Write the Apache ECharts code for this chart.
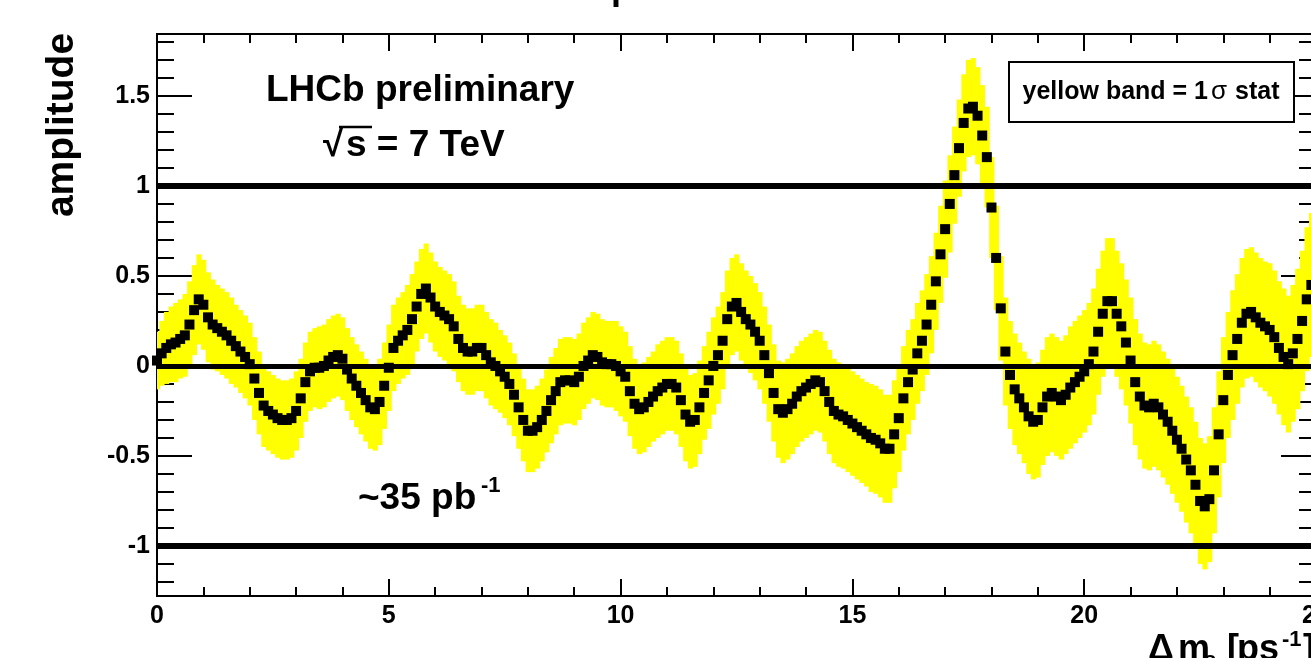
<!DOCTYPE html>
<html>
<head>
<meta charset="utf-8">
<script src="https://cdn.jsdelivr.net/npm/echarts@6/dist/echarts.min.js"></script>
<style>
    html, body { margin: 0; padding: 0; background: #fff; }
    #chart { width: 1311px; height: 658px; }
</style>
</head>
<body>
<div id="chart"></div>
<script>
;(function() {
    "use strict";

    // scan step in delta m_s [ps^-1], first point at 0
    const dmStep = 0.1;

    // amplitude, one row per unit of delta m_s
    const amplitude = [
        0.03, 0.07, 0.10, 0.12, 0.13, 0.15, 0.17, 0.23, 0.31, 0.37,
        0.34, 0.27, 0.23, 0.21, 0.19, 0.17, 0.14, 0.11, 0.08, 0.05,
        0.01, -0.07, -0.15, -0.22, -0.25, -0.27, -0.29, -0.30, -0.30, -0.29,
        -0.25, -0.18, -0.09, -0.03, -0.01, -0.01, 0.00, 0.03, 0.05, 0.06,
        0.04, -0.02, -0.07, -0.11, -0.15, -0.19, -0.23, -0.24, -0.20, -0.11,
        -0.01, 0.10, 0.14, 0.17, 0.20, 0.26, 0.33, 0.40, 0.43, 0.38,
        0.33, 0.30, 0.28, 0.26, 0.22, 0.15, 0.10, 0.08, 0.08, 0.10,
        0.10, 0.06, 0.02, 0.00, -0.03, -0.06, -0.10, -0.16, -0.23, -0.30,
        -0.36, -0.36, -0.34, -0.30, -0.25, -0.19, -0.14, -0.09, -0.08, -0.08,
        -0.09, -0.06, 0.00, 0.03, 0.06, 0.05, 0.02, 0.01, 0.01, 0.00,
        -0.03, -0.06, -0.14, -0.21, -0.24, -0.23, -0.20, -0.17, -0.14, -0.12,
        -0.10, -0.10, -0.12, -0.19, -0.27, -0.31, -0.30, -0.23, -0.15, -0.08,
        0.00, 0.06, 0.14, 0.26, 0.33, 0.35, 0.30, 0.26, 0.23, 0.19,
        0.14, 0.06, -0.04, -0.15, -0.24, -0.26, -0.24, -0.21, -0.17, -0.14,
        -0.12, -0.10, -0.08, -0.09, -0.14, -0.20, -0.25, -0.27, -0.28, -0.30,
        -0.32, -0.34, -0.36, -0.38, -0.40, -0.41, -0.43, -0.46, -0.46, -0.38,
        -0.29, -0.18, -0.09, -0.02, 0.07, 0.14, 0.23, 0.34, 0.47, 0.62,
        0.76, 0.90, 1.06, 1.21, 1.35, 1.43, 1.44, 1.39, 1.28, 1.16,
        0.88, 0.60, 0.32, 0.08, -0.05, -0.13, -0.18, -0.23, -0.28, -0.31,
        -0.30, -0.23, -0.17, -0.15, -0.17, -0.19, -0.16, -0.12, -0.09, -0.06,
        -0.03, 0.01, 0.08, 0.19, 0.29, 0.36, 0.36, 0.29, 0.22, 0.13,
        0.03, -0.09, -0.17, -0.22, -0.23, -0.21, -0.23, -0.27, -0.31, -0.36,
        -0.41, -0.46, -0.52, -0.58, -0.66, -0.75, -0.78, -0.74, -0.58, -0.38,
        -0.19, -0.05, 0.06, 0.15, 0.24, 0.29, 0.30, 0.27, 0.24, 0.22,
        0.20, 0.16, 0.10, 0.05, 0.01, 0.07, 0.15, 0.25, 0.37, 0.45
    ];

    // 1 sigma statistical error (yellow band half height)
    const sigma = [
        0.16, 0.18, 0.20, 0.21, 0.22, 0.22, 0.23, 0.24, 0.25, 0.25,
        0.25, 0.25, 0.25, 0.24, 0.24, 0.24, 0.24, 0.23, 0.23, 0.23,
        0.23, 0.23, 0.23, 0.23, 0.22, 0.22, 0.22, 0.22, 0.22, 0.22,
        0.22, 0.22, 0.22, 0.22, 0.22, 0.23, 0.23, 0.23, 0.23, 0.23,
        0.23, 0.23, 0.23, 0.23, 0.23, 0.23, 0.23, 0.23, 0.24, 0.24,
        0.24, 0.24, 0.24, 0.24, 0.25, 0.25, 0.25, 0.25, 0.25, 0.25,
        0.25, 0.25, 0.25, 0.25, 0.25, 0.24, 0.24, 0.24, 0.24, 0.24,
        0.24, 0.24, 0.24, 0.24, 0.23, 0.23, 0.23, 0.23, 0.23, 0.23,
        0.23, 0.23, 0.23, 0.23, 0.23, 0.24, 0.24, 0.24, 0.24, 0.24,
        0.24, 0.24, 0.24, 0.24, 0.24, 0.24, 0.24, 0.24, 0.24, 0.25,
        0.25, 0.25, 0.25, 0.25, 0.25, 0.25, 0.25, 0.25, 0.26, 0.26,
        0.26, 0.26, 0.26, 0.26, 0.26, 0.26, 0.26, 0.26, 0.26, 0.27,
        0.27, 0.27, 0.27, 0.27, 0.27, 0.27, 0.27, 0.27, 0.27, 0.27,
        0.27, 0.27, 0.27, 0.27, 0.27, 0.28, 0.28, 0.28, 0.28, 0.28,
        0.28, 0.28, 0.28, 0.28, 0.28, 0.29, 0.29, 0.29, 0.29, 0.29,
        0.29, 0.29, 0.29, 0.29, 0.30, 0.30, 0.30, 0.30, 0.30, 0.30,
        0.30, 0.29, 0.29, 0.28, 0.28, 0.28, 0.28, 0.27, 0.27, 0.27,
        0.27, 0.27, 0.27, 0.27, 0.27, 0.27, 0.27, 0.27, 0.28, 0.28,
        0.28, 0.29, 0.29, 0.30, 0.30, 0.31, 0.31, 0.31, 0.32, 0.32,
        0.32, 0.32, 0.33, 0.33, 0.33, 0.33, 0.33, 0.34, 0.34, 0.34,
        0.34, 0.34, 0.35, 0.35, 0.35, 0.35, 0.35, 0.35, 0.35, 0.35,
        0.35, 0.35, 0.35, 0.35, 0.35, 0.35, 0.35, 0.35, 0.35, 0.35,
        0.35, 0.35, 0.35, 0.35, 0.35, 0.35, 0.35, 0.35, 0.35, 0.35,
        0.35, 0.35, 0.36, 0.36, 0.36, 0.36, 0.36, 0.36, 0.36, 0.36,
        0.37, 0.37, 0.37, 0.38, 0.38, 0.38, 0.39, 0.39, 0.40, 0.40
    ];

    const yTickLabels = [-1, -0.5, 0, 0.5, 1, 1.5];
    const refLevels = [1, 0, -1];

    const font = "Liberation Sans";
    const markerPx = 10;

    const points = amplitude.map((a, i) => [+(i * dmStep).toFixed(1), a]);
    const band = amplitude.map((a, i) => [+(i * dmStep).toFixed(1), a - sigma[i], a + sigma[i]]);

    let yMinor = [];
    for (let k = -12; k <= 18; k++) yMinor.push(k / 10);

    const yRange = { min: -1.278, max: 1.844 };

    function yAxisDef(pos, values, len, withLabels) {
        return {
            type: "value", position: pos, min: yRange.min, max: yRange.max,
            axisLine: { show: true, onZero: false, lineStyle: { color: "#000", width: 2 } },
            axisTick: { show: true, inside: true, length: len, customValues: values,
                        lineStyle: { color: "#000", width: 2 } },
            axisLabel: { show: withLabels, customValues: values, color: "#000", margin: 7,
                         fontFamily: font, fontWeight: "bold", fontSize: 25 },
            splitLine: { show: false }
        };
    }

    function xAxisDef(pos, withLabels) {
        return {
            type: "value", position: pos, min: 0, max: 25, interval: 5,
            axisLine: { show: true, onZero: false, lineStyle: { color: "#000", width: 2 } },
            axisTick: { show: true, inside: true, length: 17, lineStyle: { color: "#000", width: 2 } },
            minorTick: { show: true, splitNumber: 5, length: 9, lineStyle: { color: "#000", width: 2 } },
            axisLabel: { show: withLabels, color: "#000", margin: 8,
                         fontFamily: font, fontWeight: "bold", fontSize: 25 },
            splitLine: { show: false },
            minorSplitLine: { show: false }
        };
    }

    // one yellow box per scan point, +-1 sigma high, one step wide
    function renderBand(params, api) {
        const x = api.value(0);
        const p1 = api.coord([x - dmStep / 2, api.value(2)]);
        const p2 = api.coord([x + dmStep / 2, api.value(1)]);
        return {
            type: "rect",
            shape: { x: p1[0], y: p1[1], width: p2[0] - p1[0] + 0.6, height: p2[1] - p1[1] },
            style: { fill: "#ffff00" }
        };
    }

    // full square marker
    function renderMarker(params, api) {
        const p = api.coord([api.value(0), api.value(1)]);
        return {
            type: "rect",
            shape: { x: p[0] - markerPx / 2, y: p[1] - markerPx / 2, width: markerPx, height: markerPx },
            style: { fill: "#000" }
        };
    }

    function txt(str, x, y, size, extra) {
        return Object.assign({
            type: "text", x: x, y: y,
            style: { text: str, font: "bold " + size + "px " + font, fill: "#000",
                     textVerticalAlign: "middle" }
        }, extra || {});
    }

    const myChart = echarts.init(document.getElementById("chart"));
    let options = {
        animation: false,
        backgroundColor: "#fff",
        grid: { left: 157, top: 34, right: -5, bottom: 62, outerBoundsMode: "none" },
        xAxis: [xAxisDef("bottom", true), xAxisDef("top", false)],
        yAxis: [
            yAxisDef("left", yTickLabels, 35, true),
            yAxisDef("left", yMinor, 17, false),
            yAxisDef("right", yTickLabels, 35, false),
            yAxisDef("right", yMinor, 17, false)
        ],
        graphic: [
            {   // y axis title
                type: "text", x: 62, y: 125, rotation: Math.PI / 2,
                style: { text: "amplitude", font: "bold 39px " + font, fill: "#000",
                         textAlign: "center", textVerticalAlign: "middle" }
            },
            // piece of the canvas title, cut by the top edge
            { type: "text", x: 611, y: 7,
              style: { text: "p", font: "bold 36px " + font, fill: "#000", textVerticalAlign: "bottom" } },
            txt("LHCb preliminary", 266, 91, 37),
            txt("\u221A", 323, 146, 37),
            { type: "line", shape: { x1: 339, y1: 127, x2: 372, y2: 127 },
              style: { stroke: "#000", lineWidth: 2.5 } },
            txt("s = 7 TeV", 346, 146, 37),
            txt("~35 pb", 358, 499, 37),
            txt("-1", 481, 486, 22),
            {   // legend box
                type: "rect", shape: { x: 1009, y: 62, width: 285, height: 60 },
                style: { fill: "#fff", stroke: "#000", lineWidth: 2 }, z: 10
            },
            {
                type: "text", x: 1151, y: 92, z: 11,
                style: {
                    text: "{b|yellow band = 1}{s|\u03C3}{b| stat}",
                    textAlign: "center", textVerticalAlign: "middle",
                    rich: {
                        b: { font: "bold 25px " + font, fill: "#000" },
                        s: { font: "26px " + font, fill: "#000", padding: [0, 1, 0, 3] }
                    }
                }
            },
            // x axis title, cut by the bottom edge
            txt("\u0394", 1148, 650, 36),
            txt("m", 1178, 650, 36),
            txt("s", 1204, 661, 22),
            txt("[", 1227, 650, 36),
            txt("ps", 1237, 650, 36),
            txt("-1", 1282, 640, 22),
            txt("]", 1303, 650, 36)
        ],
        series: [
            {
                name: "band",
                type: "custom",
                renderItem: renderBand,
                encode: { x: 0, y: [1, 2] },
                data: band,
                clip: true,
                z: 1,
                markLine: {
                    silent: true,
                    symbol: "none",
                    label: { show: false },
                    data: refLevels.map(v => ({ yAxis: v, lineStyle: { color: "#000", type: "solid", width: v === 0 ? 5 : 6 } }))
                }
            },
            {
                name: "amplitude",
                type: "custom",
                renderItem: renderMarker,
                encode: { x: 0, y: 1 },
                data: points,
                clip: false,
                z: 5
            }
        ]
    };
    myChart.setOption(options);
})();
</script>
</body>
</html>
